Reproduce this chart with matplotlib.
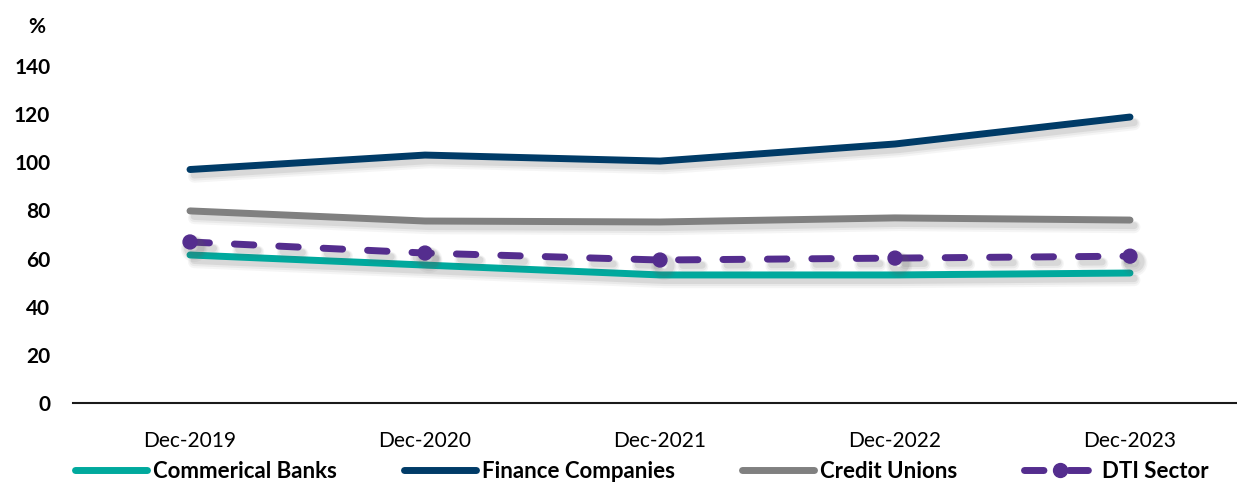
import numpy as np
import matplotlib
matplotlib.use("Agg")
import matplotlib.pyplot as plt
import matplotlib.patheffects as pe

plt.rcParams['font.family'] = ['Lato', 'DejaVu Sans']

periods = ["Dec-2019", "Dec-2020", "Dec-2021", "Dec-2022", "Dec-2023"]
commercial_banks = [61.5, 57.3, 53.2, 53.2, 54.0]
finance_companies = [97.0, 103.0, 100.5, 107.6, 118.8]
credit_unions = [79.8, 75.6, 75.2, 76.9, 76.0]
dti_sector = [66.9, 62.3, 59.4, 60.2, 61.0]
yticks = [0, 20, 40, 60, 80, 100, 120, 140]

W, H = 1237, 482
fig = plt.figure(figsize=(W / 100, H / 100), dpi=100)
ax = fig.add_axes([72.5 / W, 79 / H, 1175 / W, 337 / H])

# soft drop shadow: a few faint, widening layers under each line
shadow = [pe.SimpleLineShadow(offset=(3, -5), shadow_color='#606060', alpha=0.06, linewidth=9),
          pe.SimpleLineShadow(offset=(3, -4.5), shadow_color='#606060', alpha=0.08, linewidth=7),
          pe.SimpleLineShadow(offset=(3, -4), shadow_color='#606060', alpha=0.12, linewidth=5),
          pe.Normal()]

x = np.arange(len(periods))
ax.plot(x, commercial_banks, color='#00A99D', lw=5, solid_capstyle='round',
        label='Commerical Banks', path_effects=shadow)
ax.plot(x, finance_companies, color='#003B67', lw=5, solid_capstyle='round',
        label='Finance Companies', path_effects=shadow)
ax.plot(x, credit_unions, color='#808080', lw=5, solid_capstyle='round',
        label='Credit Unions', path_effects=shadow)
ax.plot(x, dti_sector, color='#542D8E', lw=5, linestyle=(0, (2.8, 3.6)),
        dash_capstyle='round', marker='o', markersize=10,
        label='DTI Sector', path_effects=shadow)

ax.set_xlim(-0.5, 4.5)
ax.set_ylim(0, 140)
ax.set_yticks(yticks)
ax.set_xticks(x)
ax.set_xticklabels(periods, fontsize=15)
ax.set_yticklabels([str(v) for v in yticks], fontsize=15, fontweight='bold')
ax.tick_params(axis='y', length=0, pad=16)
ax.tick_params(axis='x', length=0, pad=20)

for s in ['top', 'right', 'left']:
    ax.spines[s].set_visible(False)
ax.spines['bottom'].set_linewidth(1.5)
ax.spines['bottom'].set_color('#1a1a1a')

fig.text(37 / W, 1 - 27 / H, '%', fontsize=15, fontweight='bold',
         ha='center', va='center')

leg = fig.legend(loc='center left', bbox_to_anchor=(75 / W, 1 - 471 / H),
                 ncol=4, frameon=False, handlelength=3.25, handletextpad=0.27,
                 columnspacing=3.0, prop={'weight': 'bold', 'size': 16},
                 borderaxespad=0, borderpad=0)
for h in leg.legend_handles:
    h.set_path_effects([])

fig.savefig('out.png', dpi=100)
